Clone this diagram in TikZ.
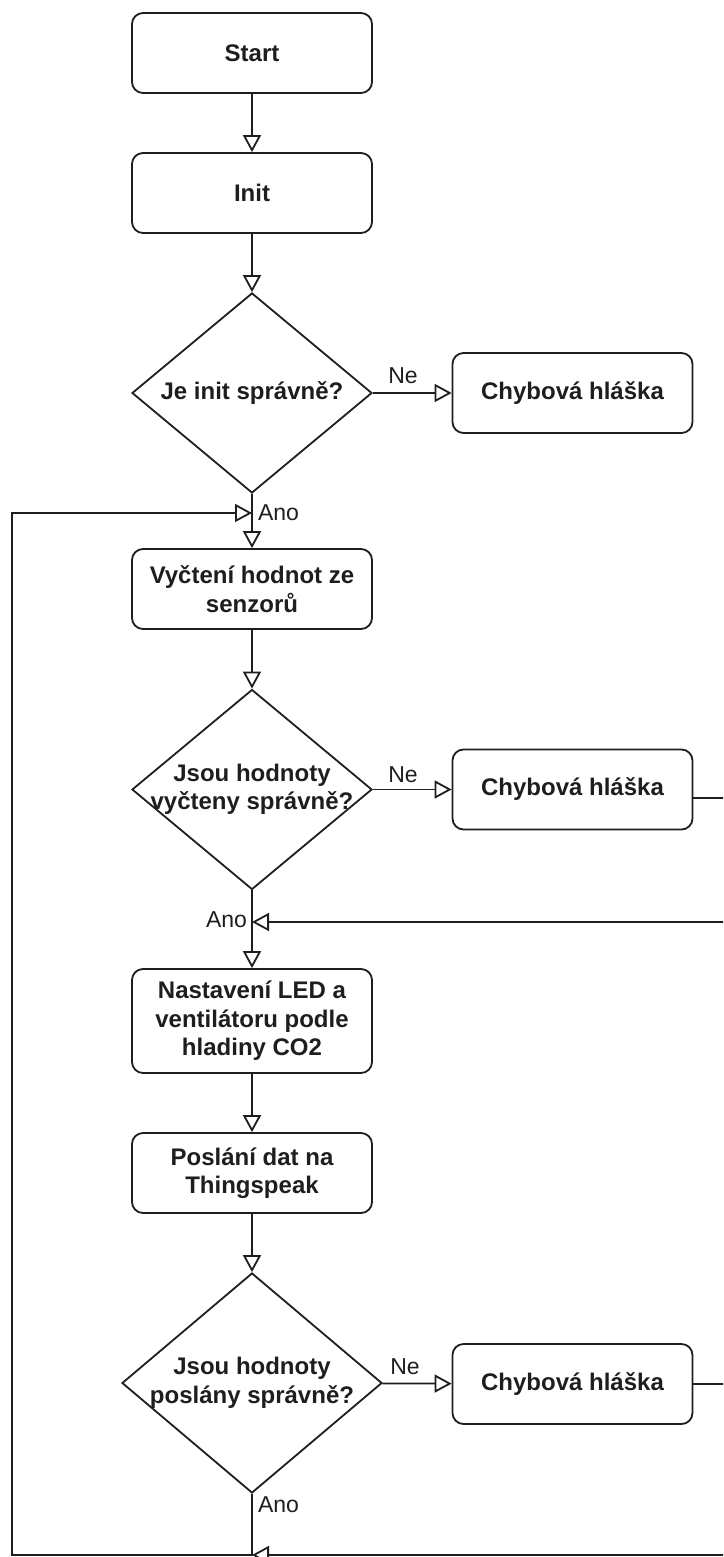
\documentclass[tikz,border=0pt]{standalone}
\usepackage{fontspec}
\setmainfont{Liberation Sans}
\usetikzlibrary{shapes.geometric,arrows.meta,calc}
\newcommand{\fcBox}{\bfseries\fontsize{24}{28.5}\selectfont}
\newcommand{\fcEdge}{\fontsize{23}{27}\selectfont}
\definecolor{ink}{RGB}{30,30,30}
\begin{document}
\begin{tikzpicture}[x=1pt,y=-1pt,
  ln/.style={line width=1.8pt, draw=ink},
  proc/.style={ln, rectangle, rounded corners=11pt, minimum width=240pt, minimum height=80pt, align=center, font=\fcBox, text=ink, inner sep=2pt, fill=white},
  dec/.style={ln, diamond, minimum width=240pt, minimum height=200pt, inner sep=0pt, fill=white},
  lbl/.style={font=\fcBox, text=ink, align=center, inner sep=0pt},
  edgelbl/.style={font=\fcEdge, text=ink, inner sep=0pt},
  arr/.style={ln, -{Triangle[open, length=17pt, width=18pt, fill=white]}}
]
\useasboundingbox (0,0) rectangle (723,1557);
\clip (0,0) rectangle (723,1557);

% nodes
\node[proc] (start) at (252,53) {Start};
\node[proc] (init) at (252,193) {Init};
\node[dec, label={[lbl]center:{Je init správně?}}] (d1) at (252,393) {};
\node[proc] (err1) at (572.5,393) {Chybová hláška};
\node[proc] (read) at (252,589) {Vyčtení hodnot ze\\senzorů};
\node[dec, label={[lbl]center:{Jsou hodnoty\\vyčteny správně?}}] (d2) at (252,789.5) {};
\node[proc] (err2) at (572.5,789.5) {Chybová hláška};
\node[proc, minimum height=104pt] (set) at (252,1021) {Nastavení LED a\\ventilátoru podle\\hladiny CO2};
\node[proc] (send) at (252,1173) {Poslání dat na\\Thingspeak};
\node[dec, minimum width=260pt, minimum height=220pt, label={[lbl]center:{Jsou hodnoty\\poslány správně?}}] (d3) at (252,1383) {};
\node[proc] (err3) at (572.5,1384) {Chybová hláška};

% edge labels
\node[edgelbl] (ne1) at (403,376) {Ne};
\node[edgelbl] (ne2) at (403,775) {Ne};
\node[edgelbl] (ne3) at (405,1367) {Ne};
\node[edgelbl] (ano1) at (278.5,513) {Ano};
\node[edgelbl] (ano2) at (226.5,920) {Ano};
\node[edgelbl] (ano3) at (278.5,1505) {Ano};

% helper coordinates
\coordinate (j1) at (252,513);
\coordinate (bl) at (12,1555);
\coordinate (j2) at (252,922);
\coordinate (r2) at (745,922);
\coordinate (e2out) at ([yshift=-8.5pt]err2.east);
\coordinate (j3) at (252,1555);
\coordinate (r3) at (745,1555);

% connectors
\draw[arr] (start) -- (init);
\draw[arr] (init) -- (d1);
\draw[arr] (d1) -- (err1);
\draw[arr] (d1) -- (read);
\draw[arr] (read) -- (d2);
\draw[arr] (d2) -- (err2);
\draw[arr] (d2) -- (set);
\draw[arr] (set) -- (send);
\draw[arr] (send) -- (d3);
\draw[arr] (d3) -- (err3);
\draw[arr] (d3.south) |- (bl) |- (j1);
\draw[arr] (e2out) -| (r2) -- (j2);
\draw[arr] (err3.east) -| (r3) -- (j3);
\end{tikzpicture}
\end{document}
